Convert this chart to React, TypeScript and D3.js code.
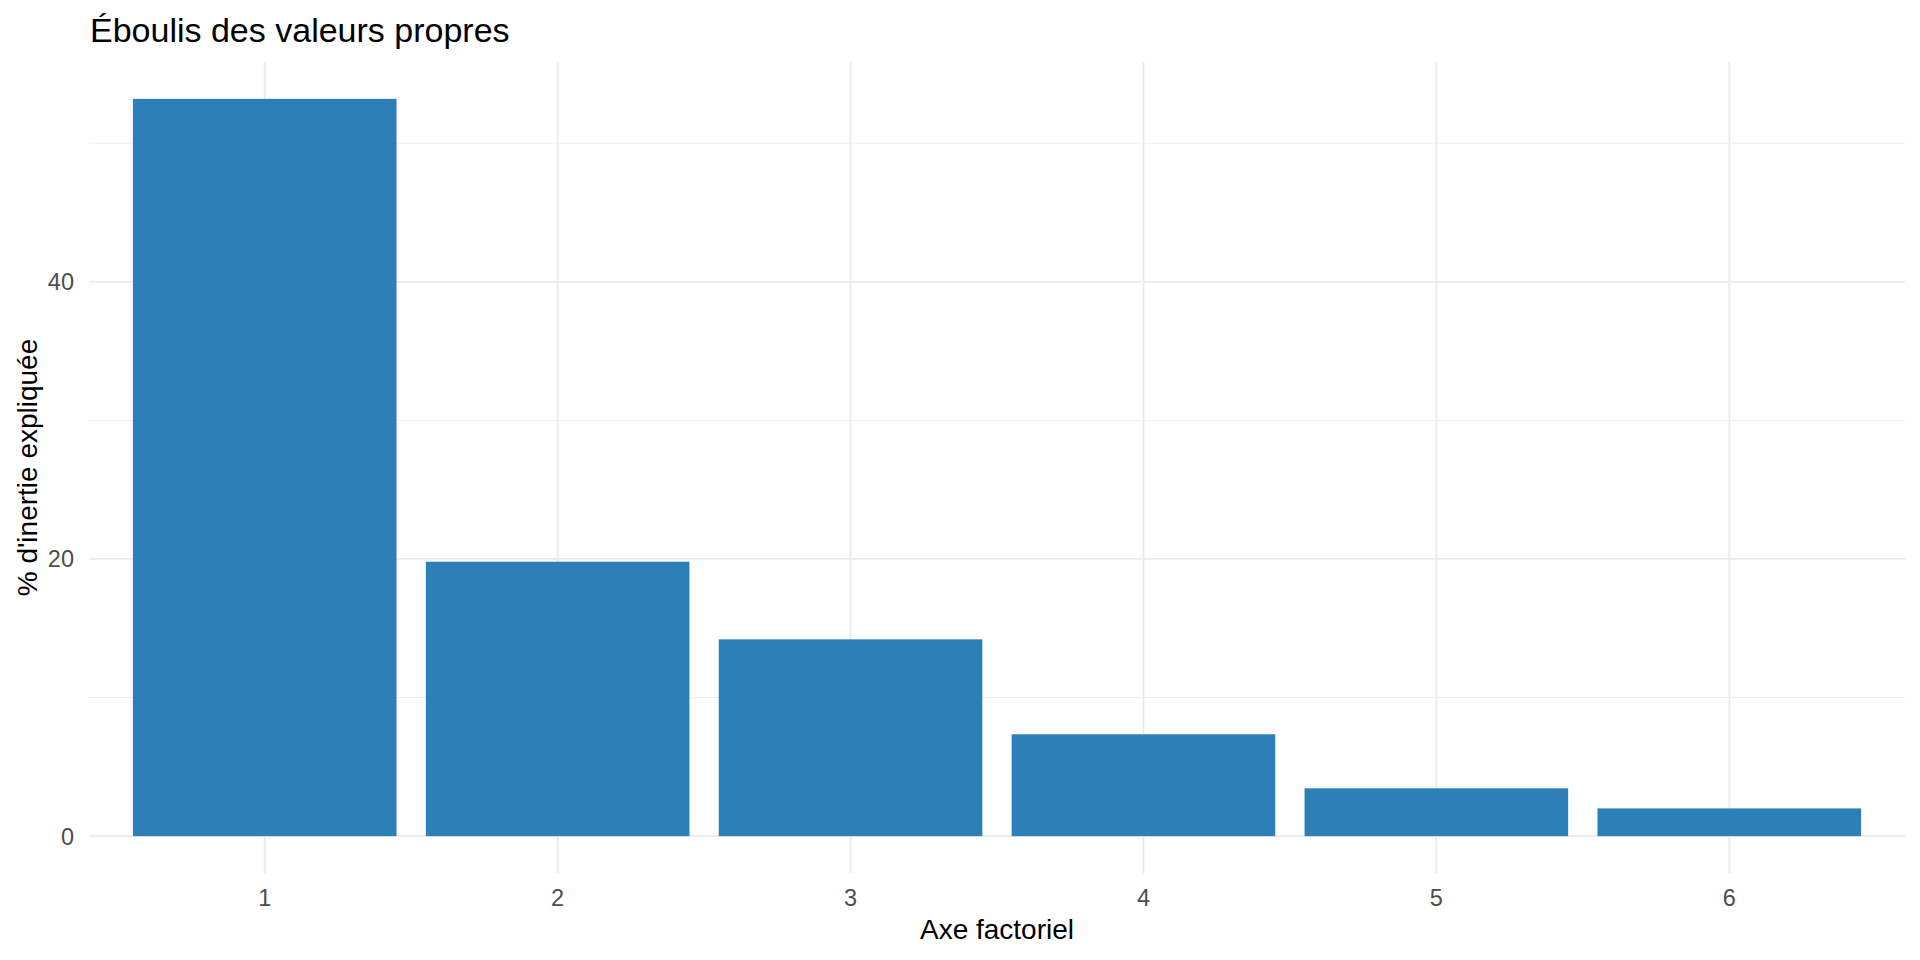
import React, { useEffect, useRef } from 'react';
import * as d3 from 'd3';

const axes = ['1', '2', '3', '4', '5', '6'];
const inertia = [53.2, 19.8, 14.2, 7.35, 3.45, 2.0];
const yMajorTicks = [0, 20, 40];
const yMinorTicks = [10, 30, 50];

const FONT = '"Liberation Sans", Arial, sans-serif';

const App: React.FC = () => {
    const svgRef = useRef<SVGSVGElement | null>(null);

    useEffect(() => {
        if (!svgRef.current) return;
        const svg = d3.select(svgRef.current);
        svg.selectAll('*').remove();

        const width = 1920;
        const height = 960;
        const margin = { top: 62, right: 15, bottom: 87, left: 89 };

        // ggplot style: 5% expansion on the continuous axis
        const maxVal = d3.max(inertia) || 0;
        const yScale = d3
            .scaleLinear()
            .domain([-0.05 * maxVal, 1.05 * maxVal])
            .range([height - margin.bottom, margin.top]);

        const xScale = d3
            .scaleBand()
            .domain(axes)
            .range([margin.left, width - margin.right])
            .paddingInner(0.1)
            .paddingOuter(0.15);

        svg.append('rect').attr('width', width).attr('height', height).attr('fill', '#ffffff');

        // Grid lines
        const grid = svg.append('g');
        grid.selectAll('.minor')
            .data(yMinorTicks)
            .enter()
            .append('line')
            .attr('x1', margin.left)
            .attr('x2', width - margin.right)
            .attr('y1', (d) => yScale(d))
            .attr('y2', (d) => yScale(d))
            .attr('stroke', '#ebebeb')
            .attr('stroke-width', 0.9);

        grid.selectAll('.major')
            .data(yMajorTicks)
            .enter()
            .append('line')
            .attr('x1', margin.left)
            .attr('x2', width - margin.right)
            .attr('y1', (d) => yScale(d))
            .attr('y2', (d) => yScale(d))
            .attr('stroke', '#ebebeb')
            .attr('stroke-width', 1.8);

        grid.selectAll('.vmajor')
            .data(axes)
            .enter()
            .append('line')
            .attr('x1', (d) => (xScale(d) || 0) + xScale.bandwidth() / 2)
            .attr('x2', (d) => (xScale(d) || 0) + xScale.bandwidth() / 2)
            .attr('y1', margin.top)
            .attr('y2', height - margin.bottom)
            .attr('stroke', '#ebebeb')
            .attr('stroke-width', 1.8);

        // Bars
        svg.selectAll('.bar')
            .data(axes)
            .enter()
            .append('rect')
            .attr('x', (d) => xScale(d) || 0)
            .attr('width', xScale.bandwidth())
            .attr('y', (d, i) => yScale(inertia[i]))
            .attr('height', (d, i) => yScale(0) - yScale(inertia[i]))
            .attr('fill', '#2d7fb8');

        // Y tick labels
        svg.selectAll('.ylab')
            .data(yMajorTicks)
            .enter()
            .append('text')
            .attr('x', 74)
            .attr('y', (d) => yScale(d))
            .attr('dy', '0.36em')
            .attr('text-anchor', 'end')
            .attr('font-family', FONT)
            .attr('font-size', 23.5)
            .attr('fill', '#4d4d4d')
            .text((d) => d);

        // X tick labels
        svg.selectAll('.xlab')
            .data(axes)
            .enter()
            .append('text')
            .attr('x', (d) => (xScale(d) || 0) + xScale.bandwidth() / 2)
            .attr('y', 906)
            .attr('text-anchor', 'middle')
            .attr('font-family', FONT)
            .attr('font-size', 23.5)
            .attr('fill', '#4d4d4d')
            .text((d) => d);

        // Axis titles
        svg.append('text')
            .attr('x', (margin.left + width - margin.right) / 2)
            .attr('y', 939)
            .attr('text-anchor', 'middle')
            .attr('font-family', FONT)
            .attr('font-size', 28)
            .attr('fill', '#000000')
            .text('Axe factoriel');

        svg.append('text')
            .attr('transform', `translate(37, ${(margin.top + height - margin.bottom) / 2}) rotate(-90)`)
            .attr('text-anchor', 'middle')
            .attr('font-family', FONT)
            .attr('font-size', 28)
            .attr('fill', '#000000')
            .text("% d'inertie expliquée");

        // Title
        svg.append('text')
            .attr('x', 90)
            .attr('y', 42)
            .attr('font-family', FONT)
            .attr('font-size', 34)
            .attr('fill', '#000000')
            .text('Éboulis des valeurs propres');
    }, []);

    return (
        <svg
            ref={svgRef}
            width={1920}
            height={960}
            style={{ position: 'absolute', left: 0, top: 0, display: 'block' }}
        />
    );
};

export default App;
